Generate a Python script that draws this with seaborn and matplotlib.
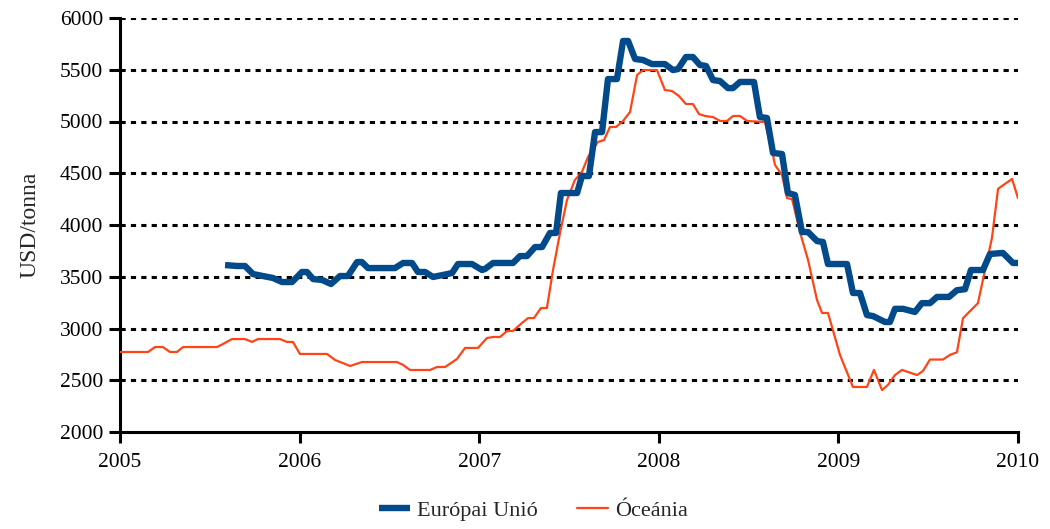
import matplotlib
matplotlib.use('Agg')
import matplotlib.pyplot as plt
import pandas as pd
import seaborn as sns

# ── DATA ─────────────────────────────────────────────────────────────────────
eu_year = [2005.585, 2005.651, 2005.696, 2005.741, 2005.796, 2005.852, 2005.902, 2005.958,
           2006.013, 2006.041, 2006.075, 2006.125, 2006.175, 2006.225, 2006.269, 2006.320,
           2006.347, 2006.381, 2006.531, 2006.576, 2006.626, 2006.659, 2006.698, 2006.743,
           2006.798, 2006.849, 2006.882, 2006.960, 2007.016, 2007.032, 2007.077, 2007.188,
           2007.227, 2007.266, 2007.311, 2007.350, 2007.394, 2007.428, 2007.455, 2007.545,
           2007.572, 2007.611, 2007.645, 2007.684, 2007.717, 2007.767, 2007.801, 2007.829,
           2007.868, 2007.912, 2007.962, 2008.034, 2008.079, 2008.107, 2008.151, 2008.190,
           2008.229, 2008.263, 2008.302, 2008.341, 2008.385, 2008.413, 2008.452, 2008.530,
           2008.563, 2008.602, 2008.636, 2008.686, 2008.719, 2008.758, 2008.797, 2008.831,
           2008.881, 2008.914, 2008.942, 2009.048, 2009.081, 2009.120, 2009.159, 2009.193,
           2009.259, 2009.287, 2009.315, 2009.360, 2009.426, 2009.465, 2009.510, 2009.549,
           2009.616, 2009.660, 2009.705, 2009.738, 2009.805, 2009.844, 2009.916, 2009.972,
           2010.000]
eu_price = [3613, 3604, 3604, 3526, 3507, 3488, 3449, 3449,
            3546, 3546, 3478, 3469, 3430, 3507, 3507, 3642,
            3642, 3584, 3584, 3633, 3633, 3546, 3546, 3498,
            3517, 3536, 3623, 3623, 3565, 3575, 3633, 3633,
            3700, 3700, 3787, 3787, 3923, 3923, 4309, 4309,
            4473, 4473, 4898, 4898, 5410, 5410, 5778, 5778,
            5604, 5594, 5555, 5555, 5497, 5507, 5623, 5623,
            5546, 5536, 5400, 5391, 5323, 5323, 5382, 5382,
            5043, 5034, 4696, 4686, 4309, 4290, 3932, 3932,
            3845, 3836, 3623, 3623, 3343, 3343, 3130, 3120,
            3063, 3063, 3190, 3190, 3160, 3245, 3245, 3305,
            3305, 3370, 3380, 3565, 3565, 3720, 3730, 3633,
            3633]

oc_year = [2005.000, 2005.156, 2005.195, 2005.239, 2005.278, 2005.317, 2005.351, 2005.540,
           2005.573, 2005.624, 2005.696, 2005.735, 2005.768, 2005.891, 2005.930, 2005.963,
           2006.002, 2006.153, 2006.197, 2006.281, 2006.347, 2006.542, 2006.576, 2006.615,
           2006.726, 2006.765, 2006.810, 2006.876, 2006.921, 2006.993, 2007.043, 2007.077,
           2007.116, 2007.155, 2007.188, 2007.238, 2007.272, 2007.305, 2007.344, 2007.377,
           2007.411, 2007.450, 2007.489, 2007.533, 2007.572, 2007.606, 2007.661, 2007.695,
           2007.728, 2007.762, 2007.801, 2007.840, 2007.879, 2007.912, 2007.990, 2008.034,
           2008.073, 2008.112, 2008.151, 2008.190, 2008.224, 2008.257, 2008.302, 2008.341,
           2008.380, 2008.413, 2008.452, 2008.491, 2008.591, 2008.636, 2008.647, 2008.686,
           2008.714, 2008.742, 2008.786, 2008.831, 2008.881, 2008.909, 2008.942, 2009.009,
           2009.081, 2009.159, 2009.198, 2009.243, 2009.276, 2009.315, 2009.354, 2009.438,
           2009.471, 2009.510, 2009.582, 2009.621, 2009.660, 2009.694, 2009.777, 2009.855,
           2009.889, 2009.967, 2010.000]
oc_price = [2773, 2773, 2821, 2821, 2773, 2773, 2821, 2821,
            2850, 2898, 2898, 2870, 2898, 2898, 2870, 2870,
            2754, 2754, 2696, 2638, 2676, 2676, 2648, 2599,
            2599, 2628, 2628, 2705, 2812, 2812, 2908, 2918,
            2918, 2976, 2976, 3053, 3101, 3101, 3198, 3198,
            3565, 3923, 4242, 4435, 4512, 4657, 4802, 4821,
            4947, 4947, 5005, 5092, 5449, 5497, 5497, 5304,
            5295, 5246, 5169, 5169, 5072, 5053, 5043, 5005,
            5005, 5053, 5053, 5005, 4995, 4676, 4580, 4483,
            4260, 4250, 3932, 3662, 3275, 3150, 3150, 2744,
            2435, 2435, 2600, 2405, 2455, 2550, 2600, 2550,
            2590, 2700, 2700, 2745, 2770, 3100, 3245, 3875,
            4350, 4445, 4260]

series_names = ["Európai Unió", "Óceánia"]
x_ticks = [2005, 2006, 2007, 2008, 2009, 2010]
y_ticks = [2000, 2500, 3000, 3500, 4000, 4500, 5000, 5500, 6000]
y_label = "USD/tonna"
# ─────────────────────────────────────────────────────────────────────────────

BLUE = "#024a8a"
ORANGE = "#ff4516"

sns.set_style("ticks")
plt.rcParams['font.family'] = ['Liberation Serif', 'DejaVu Serif']

df_eu = pd.DataFrame({"year": eu_year, "price": eu_price})
df_oc = pd.DataFrame({"year": oc_year, "price": oc_price})

fig = plt.figure(figsize=(10.5, 5.29), dpi=100)
ax = fig.add_axes([120 / 1050, 1 - 432 / 529, 898 / 1050, 414 / 529])

# dotted horizontal grid
for v in y_ticks[1:]:
    ax.axhline(v, color="black", lw=2.2, linestyle=(0, (1.7, 1.7)), zorder=1)

sns.lineplot(data=df_oc, x="year", y="price", ax=ax, color=ORANGE, lw=1.6,
             label=series_names[1], zorder=3, estimator=None, sort=False)
sns.lineplot(data=df_eu, x="year", y="price", ax=ax, color=BLUE, lw=4.6,
             label=series_names[0], zorder=4, estimator=None, sort=False,
             solid_joinstyle="round", solid_capstyle="butt")

ax.set_xlim(2005, 2010)
ax.set_ylim(2000, 6000)
ax.set_xticks(x_ticks)
ax.set_yticks(y_ticks)
ax.set_xticklabels([str(t) for t in x_ticks])
ax.set_xlabel("")
ax.set_ylabel(y_label, fontsize=17, labelpad=14)

for side in ["top", "right"]:
    ax.spines[side].set_visible(False)
for side in ["left", "bottom"]:
    ax.spines[side].set_linewidth(2.2)
    ax.spines[side].set_color("black")
ax.tick_params(axis="both", direction="out", length=8, width=2.2,
               labelsize=15.5, colors="black")
ax.tick_params(axis="x", pad=7)
ax.tick_params(axis="y", pad=4)

# legend below, EU first
handles, labels = ax.get_legend_handles_labels()
order = [labels.index(n) for n in series_names]
ax.legend_.remove()
leg = fig.legend([handles[i] for i in order], [labels[i] for i in order],
                 loc="lower center", bbox_to_anchor=(0.508, -0.022), ncol=2,
                 frameon=False, fontsize=16, handlelength=1.4,
                 columnspacing=1.8, handletextpad=0.3)

fig.savefig("out.png", dpi=100)
plt.close(fig)
